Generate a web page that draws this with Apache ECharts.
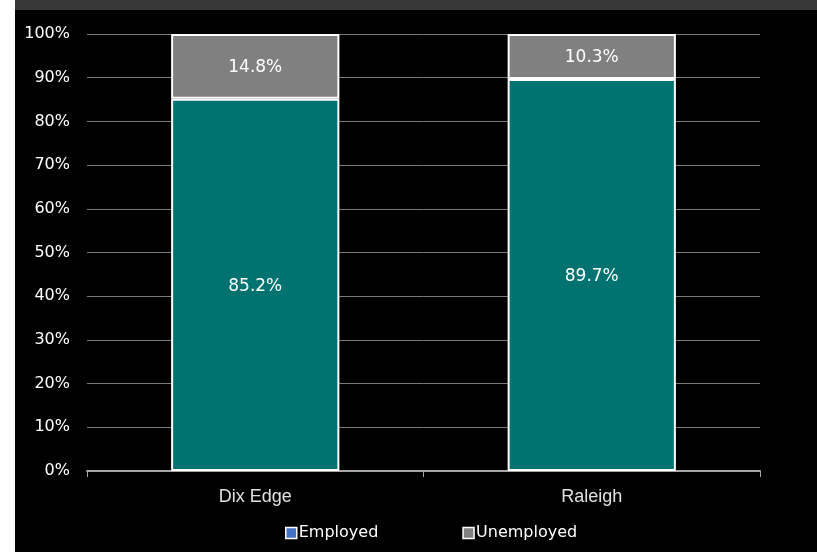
<!DOCTYPE html>
<html>
<head>
<meta charset="utf-8">
<script src="https://cdn.jsdelivr.net/npm/echarts@6/dist/echarts.min.js"></script>
<style>
html, body { margin: 0; padding: 0; background: #000; }
#main { width: 817px; height: 552px; }
</style>
</head>
<body>
<div id="main"></div>
<script>
var places = ['Dix Edge', 'Raleigh'];
var employed = [85.2, 89.7];
var unemployed = [14.8, 10.3];
var yTicks = [0, 10, 20, 30, 40, 50, 60, 70, 80, 90, 100];

var myChart = echarts.init(document.getElementById('main'));
var font = '"DejaVu Sans", sans-serif';

var option = {
    backgroundColor: '#000',
    animation: false,
    graphic: [
        { type: 'rect', left: 0, top: 0, shape: { width: 15, height: 552 }, style: { fill: '#fff' } },
        { type: 'rect', left: 15, top: 0, shape: { width: 802, height: 10 }, style: { fill: '#383838' } }
    ],
    grid: { left: 87, right: 57, top: 34, bottom: 81 },
    legend: {
        bottom: 6,
        left: 280,
        icon: 'rect',
        itemWidth: 11,
        itemHeight: 11,
        itemGap: 84,
        textStyle: { color: '#fff', fontSize: 16, fontFamily: font, padding: [0, 0, 0, -3] },
        data: [
            { name: 'Employed', itemStyle: { color: '#4472C4', borderColor: '#fff', borderWidth: 1.5 } },
            { name: 'Unemployed', itemStyle: { color: '#808080', borderColor: '#fff', borderWidth: 1.5 } }
        ]
    },
    xAxis: {
        type: 'category',
        data: places,
        axisLine: { lineStyle: { color: '#a6a6a6', width: 2 } },
        axisTick: { show: true, length: 6, lineStyle: { color: '#a6a6a6' } },
        axisLabel: { color: '#e0e0e0', fontSize: 18, fontFamily: '"Liberation Sans", Arial, sans-serif', margin: 17 }
    },
    yAxis: {
        type: 'value',
        min: yTicks[0],
        max: yTicks[yTicks.length - 1],
        interval: 10,
        axisLine: { show: false },
        axisTick: { show: false },
        splitLine: { lineStyle: { color: '#7a7a7a', width: 1 } },
        axisLabel: {
            color: '#fff', fontSize: 16, fontFamily: font, margin: 17,
            formatter: function (v) { return v + '%'; }
        }
    },
    series: [
        {
            name: 'Employed',
            type: 'bar',
            stack: 'total',
            barWidth: '50%',
            data: employed,
            itemStyle: { color: '#007370', borderColor: '#fff', borderWidth: 2 },
            label: {
                show: true, position: 'inside', offset: [0, 2], color: '#fff', fontSize: 17, fontFamily: font,
                formatter: function (p) { return p.value.toFixed(1) + '%'; }
            }
        },
        {
            name: 'Unemployed',
            type: 'bar',
            stack: 'total',
            barWidth: '50%',
            data: unemployed,
            itemStyle: { color: '#808080', borderColor: '#fff', borderWidth: 2 },
            label: {
                show: true, position: 'inside', offset: [0, 1], color: '#fff', fontSize: 17, fontFamily: font,
                formatter: function (p) { return p.value.toFixed(1) + '%'; }
            }
        }
    ]
};
myChart.setOption(option);
</script>
</body>
</html>
